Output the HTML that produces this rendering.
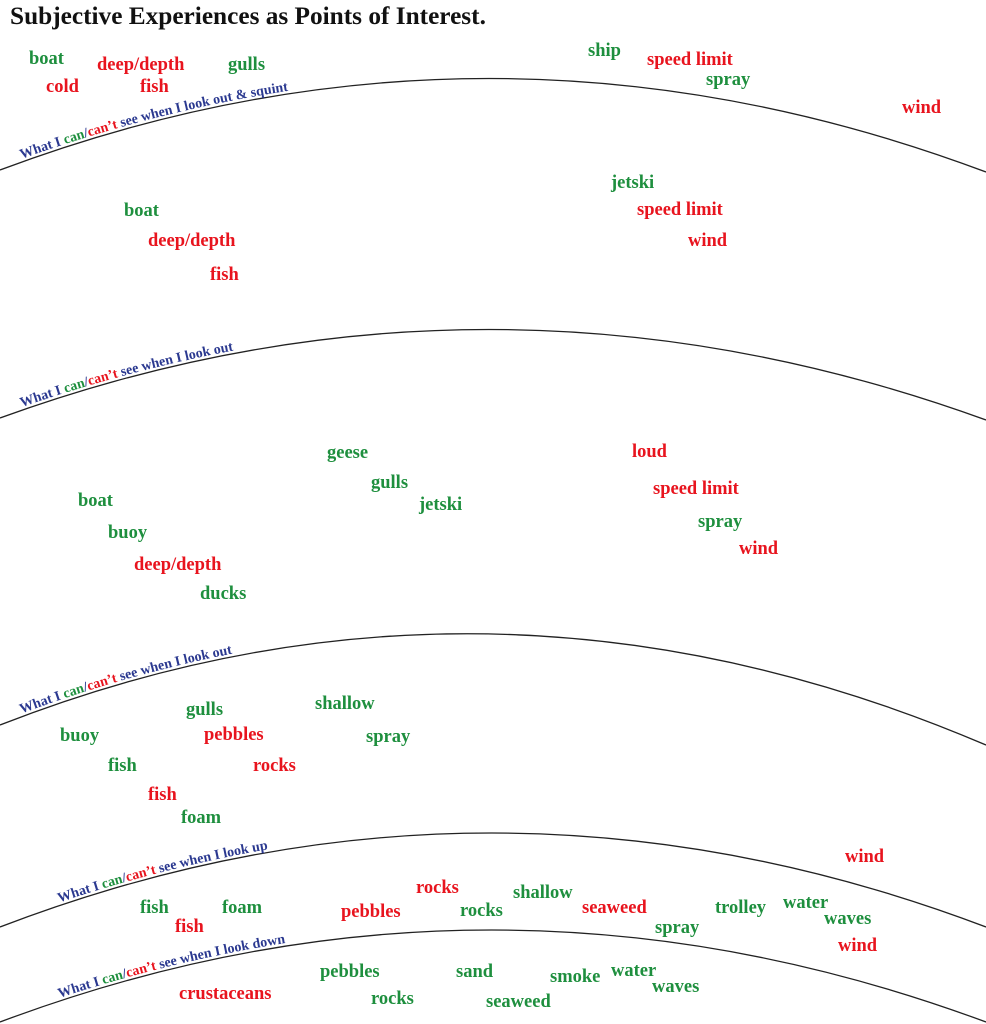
<!DOCTYPE html>
<html><head><meta charset="utf-8"><style>
html,body{margin:0;padding:0;background:#fff;}
svg{display:block;}
text{font-family:"Liberation Serif",serif;font-weight:bold;}
.g{fill:#1e8f3e;font-size:18.5px;}
.r{fill:#e8141e;font-size:18.5px;}
.l{fill:#2b3990;font-size:14px;}
.lg{fill:#1e8f3e;}
.lr{fill:#e8141e;}
</style></head><body>
<svg width="986" height="1024" viewBox="0 0 986 1024" xmlns="http://www.w3.org/2000/svg">
<defs>
<path id="c1" d="M0,170 Q490,-14 986,172"/>
<path id="c2" d="M0,418 Q490,240 986,420"/>
<path id="c3" d="M0,725 Q490,533 986,745"/>
<path id="c4" d="M0,927 Q490,739 986,927"/>
<path id="c5" d="M0,1022 Q490,838 986,1022"/>
</defs>
<g fill="none" stroke="#222" stroke-width="1.3">
<use href="#c1"/><use href="#c2"/><use href="#c3"/><use href="#c4"/><use href="#c5"/>
</g>
<text x="10" y="24" style="font-size:25.3px;fill:#111">Subjective Experiences as Points of Interest.</text>

<text class="l" dy="-3"><textPath href="#c1" startOffset="24">What I <tspan class="lg">can</tspan>/<tspan class="lr">can’t</tspan> see when I look out &amp; squint</textPath></text>
<text class="l" dy="-3"><textPath href="#c2" startOffset="24">What I <tspan class="lg">can</tspan>/<tspan class="lr">can’t</tspan> see when I look out</textPath></text>
<text class="l" dy="-3"><textPath href="#c3" startOffset="24">What I <tspan class="lg">can</tspan>/<tspan class="lr">can’t</tspan> see when I look out</textPath></text>
<text class="l" dy="-3"><textPath href="#c4" startOffset="64">What I <tspan class="lg">can</tspan>/<tspan class="lr">can’t</tspan> see when I look up</textPath></text>
<text class="l" dy="-3"><textPath href="#c5" startOffset="64">What I <tspan class="lg">can</tspan>/<tspan class="lr">can’t</tspan> see when I look down</textPath></text>

<text class="g" x="29" y="64">boat</text>
<text class="r" x="46" y="92">cold</text>
<text class="r" x="97" y="70">deep/depth</text>
<text class="r" x="140" y="92">fish</text>
<text class="g" x="228" y="70">gulls</text>
<text class="g" x="588" y="56">ship</text>
<text class="r" x="647" y="65">speed limit</text>
<text class="g" x="706" y="85">spray</text>
<text class="r" x="902" y="113">wind</text>

<text class="g" x="611" y="188">jetski</text>
<text class="r" x="637" y="215">speed limit</text>
<text class="r" x="688" y="246">wind</text>
<text class="g" x="124" y="216">boat</text>
<text class="r" x="148" y="246">deep/depth</text>
<text class="r" x="210" y="280">fish</text>

<text class="g" x="327" y="458">geese</text>
<text class="g" x="371" y="488">gulls</text>
<text class="g" x="419" y="510">jetski</text>
<text class="r" x="632" y="457">loud</text>
<text class="r" x="653" y="494">speed limit</text>
<text class="g" x="698" y="527">spray</text>
<text class="r" x="739" y="554">wind</text>
<text class="g" x="78" y="506">boat</text>
<text class="g" x="108" y="538">buoy</text>
<text class="r" x="134" y="570">deep/depth</text>
<text class="g" x="200" y="599">ducks</text>

<text class="g" x="186" y="715">gulls</text>
<text class="g" x="315" y="709">shallow</text>
<text class="g" x="60" y="741">buoy</text>
<text class="r" x="204" y="740">pebbles</text>
<text class="g" x="366" y="742">spray</text>
<text class="g" x="108" y="771">fish</text>
<text class="r" x="253" y="771">rocks</text>
<text class="r" x="148" y="800">fish</text>
<text class="g" x="181" y="823">foam</text>

<text class="r" x="845" y="862">wind</text>
<text class="r" x="416" y="893">rocks</text>
<text class="g" x="513" y="898">shallow</text>
<text class="g" x="140" y="913">fish</text>
<text class="g" x="222" y="913">foam</text>
<text class="r" x="341" y="917">pebbles</text>
<text class="g" x="460" y="916">rocks</text>
<text class="r" x="582" y="913">seaweed</text>
<text class="g" x="715" y="913">trolley</text>
<text class="g" x="783" y="908">water</text>
<text class="g" x="824" y="924">waves</text>
<text class="g" x="655" y="933">spray</text>
<text class="r" x="175" y="932">fish</text>
<text class="r" x="838" y="951">wind</text>

<text class="g" x="320" y="977">pebbles</text>
<text class="g" x="456" y="977">sand</text>
<text class="g" x="550" y="982">smoke</text>
<text class="g" x="611" y="976">water</text>
<text class="g" x="652" y="992">waves</text>
<text class="r" x="179" y="999">crustaceans</text>
<text class="g" x="371" y="1004">rocks</text>
<text class="g" x="486" y="1007">seaweed</text>
</svg>
</body></html>
